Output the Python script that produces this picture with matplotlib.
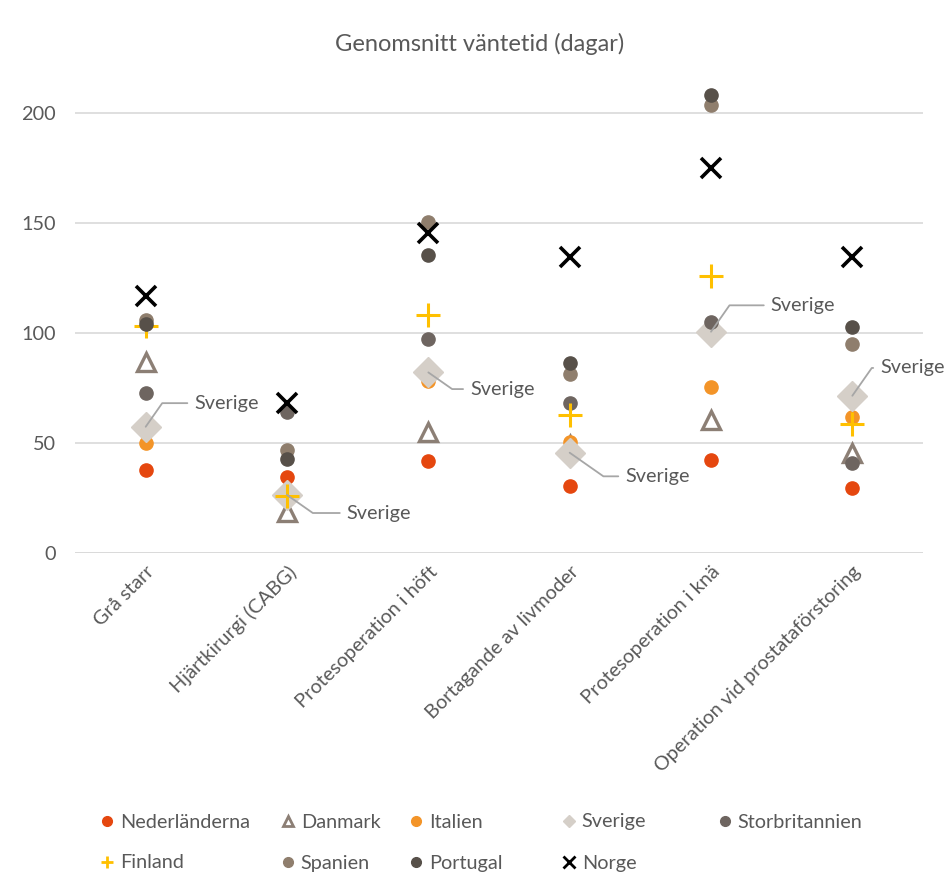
import matplotlib
matplotlib.use("Agg")
import matplotlib.pyplot as plt
from matplotlib.lines import Line2D

plt.rcParams['font.family'] = ['Lato', 'DejaVu Sans']

categories = ["Grå starr", "Hjärtkirurgi (CABG)", "Protesoperation i höft",
              "Bortagande av livmoder", "Protesoperation i knä",
              "Operation vid prostataförstoring"]

nederlanderna = [37.7, 34.7, 42.0, 30.5, 42.3, 29.4]
danmark = [87.0, 18.8, 55.2, 49.0, 60.5, 45.3]
italien = [50.0, 24.0, 78.0, 50.6, 75.6, 61.7]
sverige = [57.4, 26.4, 82.1, 45.6, 100.6, 71.5]
storbritannien = [72.7, 64.0, 97.1, 68.3, 104.9, 40.8]
finland = [103.3, 26.0, 108.2, 62.7, 125.9, 58.6]
spanien = [106.0, 47.0, 150.6, 81.4, 203.6, 95.0]
portugal = [104.3, 42.7, 135.5, 86.2, 208.2, 102.6]
norge = [116.8, 68.0, 145.4, 134.7, 174.9, 134.7]

yticks = [0, 50, 100, 150, 200]

W, H = 946, 893
fig = plt.figure(figsize=(W / 100, H / 100), dpi=100)
ax = fig.add_axes([0.0793, 0.3807, 0.8964, 0.5420])
x = list(range(len(categories)))

txt = '#595959'
FS = 14.3
series = [
    ("Nederländerna", nederlanderna, dict(marker='o', ms=9.5, color='#E5470F', mec='#E5470F'), 7),
    ("Danmark", danmark, dict(marker='^', ms=12.5, mfc='none', mec='#8C7F75', mew=2.4), 7.5),
    ("Italien", italien, dict(marker='o', ms=9.5, color='#F39428', mec='#F39428'), 7),
    ("Sverige", sverige, dict(marker='D', ms=15, color='#D5CFC8', mec='#D5CFC8'), 6.5),
    ("Storbritannien", storbritannien, dict(marker='o', ms=9.5, color='#6E6560', mec='#6E6560'), 7),
    ("Finland", finland, dict(marker='+', ms=17, color='#FFC000', mew=2.2), 9),
    ("Spanien", spanien, dict(marker='o', ms=9.5, color='#8F7E6D', mec='#8F7E6D'), 7),
    ("Portugal", portugal, dict(marker='o', ms=9.5, color='#575049', mec='#575049'), 7),
    ("Norge", norge, dict(marker='x', ms=14, color='#000000', mew=2.6), 8.5),
]
for name, vals, st, lms in series:
    ax.plot(x, vals, linestyle='none', label=name, zorder=3, **st)

# Sverige data labels with leader lines (offsets in points)
offsets = [(35, 17), (43, -13), (30, -12), (40, -17), (43, 19), (20, 20)]
for xi, yi, (dx, dy) in zip(x, sverige, offsets):
    ax.annotate("Sverige", xy=(xi, yi), xytext=(dx, dy), textcoords='offset points',
                fontsize=FS, color=txt, ha='left', va='center',
                arrowprops=dict(arrowstyle='-', color='#A6A6A6', lw=1.3,
                                connectionstyle='angle,angleA=0,angleB=%d,rad=0' % (55 if dy > 0 else -35),
                                shrinkA=3, shrinkB=0),
                annotation_clip=False, zorder=4)

ax.set_xlim(-0.5, 5.5)
ax.set_ylim(0, 220)
ax.set_yticks(yticks)
ax.set_yticklabels([str(v) for v in yticks])
ax.yaxis.grid(True, color='#D9D9D9', lw=1.2)
ax.set_axisbelow(True)
for s in ax.spines.values():
    s.set_visible(False)
ax.axhline(0, color='#D9D9D9', lw=1.2, zorder=1)
ax.tick_params(axis='y', length=0, pad=14, labelsize=FS, labelcolor=txt)
ax.tick_params(axis='x', length=0, pad=7, labelsize=FS, labelcolor=txt)
ax.set_xticks(x)
ax.set_xticklabels(categories, rotation=45, ha='right', va='top', rotation_mode='anchor')

fig.text(0.507, 0.951, "Genomsnitt väntetid (dagar)", ha='center', va='center',
         fontsize=17, color=txt)

# legend: one entry per position, like the reference layout
col_x = [107, 288, 416, 569, 725]
row_y = [822, 863]
for i, (name, vals, st, lms) in enumerate(series):
    r, c = divmod(i, 5)
    st2 = dict(st)
    st2['ms'] = lms
    if 'mew' in st2:
        st2['mew'] = min(st2['mew'], 2.0)
    h = Line2D([], [], linestyle='none', **st2)
    leg = fig.legend([h], [name], loc='center left',
                     bbox_to_anchor=((col_x[c] - 8) / W, 1 - row_y[r] / H),
                     frameon=False, fontsize=FS, labelcolor=txt, handlelength=0.8,
                     handletextpad=0.25, borderpad=0, borderaxespad=0)

fig.savefig("out.png", dpi=100)
